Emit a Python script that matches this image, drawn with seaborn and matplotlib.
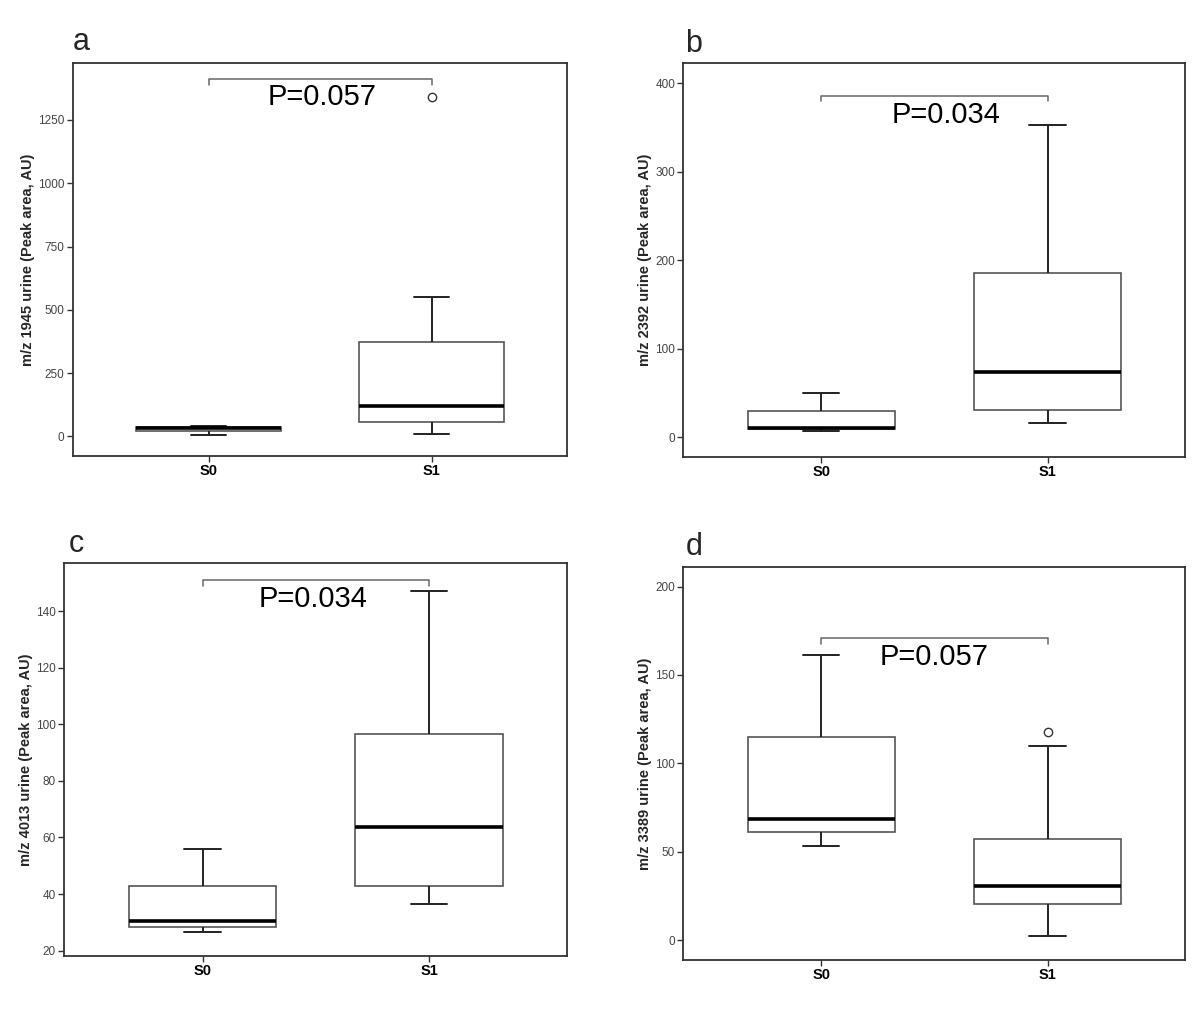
import pandas as pd
import seaborn as sns
import matplotlib.pyplot as plt

# groups on the x axis
groups = ["S0", "S1"]

# five-number summaries: [low whisker, Q1, median, Q3, high whisker]
a_s0 = [6, 22, 33, 38, 40]
a_s1 = [9, 58, 120, 374, 552]
b_s0 = [7.1, 8.7, 9.8, 29.4, 49.4]
b_s1 = [15.5, 30.5, 73.9, 185, 353]
c_s0 = [26.5, 28.5, 30.5, 42.9, 56.0]
c_s1 = [36.4, 43.0, 63.6, 96.6, 147.2]
d_s0 = [53.4, 61.0, 68.5, 115.1, 161.3]
d_s1 = [2.5, 20.2, 30.7, 57.2, 109.8]

# outliers (group, value)
a_out = [("S1", 1342)]
d_out = [("S1", 117.6)]

labels = ["a", "b", "c", "d"]
ylabels = ["m/z 1945 urine (Peak area, AU)", "m/z 2392 urine (Peak area, AU)",
           "m/z 4013 urine (Peak area, AU)", "m/z 3389 urine (Peak area, AU)"]
pvalues = ["P=0.057", "P=0.034", "P=0.034", "P=0.057"]
yticks = [[0, 250, 500, 750, 1000, 1250], [0, 100, 200, 300, 400],
          [20, 40, 60, 80, 100, 120, 140], [0, 50, 100, 150, 200]]
ylims = [(-78, 1475), (-22.3, 422.6), (18.1, 157.1), (-11.3, 211.3)]
bracket_top = [1412, 386, 150.9, 170.9]
bracket_tip = [1389, 380, 148.9, 167.5]
ptext_y = [1340, 364, 144.2, 160.3]
ptext_x = [0.51, 0.55, 0.49, 0.5]

sns.set_style("white")
plt.rcParams['font.family'] = ['Liberation Sans', 'DejaVu Sans']

fig = plt.figure(figsize=(12, 10.15), dpi=100)
axes_pos = [[0.0606, 0.5507, 0.4123, 0.3872],
            [0.5695, 0.5500, 0.4184, 0.3876],
            [0.0536, 0.0581, 0.4191, 0.3875],
            [0.5695, 0.0542, 0.4184, 0.3875]]
label_pos = [(0.0681, 0.9507), (0.5782, 0.9491), (0.0639, 0.4559), (0.5782, 0.4532)]
ylab_x = [-0.077, -0.062, -0.062, -0.062]

panels = [(a_s0, a_s1, a_out), (b_s0, b_s1, []), (c_s0, c_s1, []), (d_s0, d_s1, d_out)]

for i, (s0, s1, outs) in enumerate(panels):
    ax = fig.add_axes(axes_pos[i])
    df = pd.DataFrame({"group": ["S0"] * len(s0) + ["S1"] * len(s1),
                       "value": s0 + s1})
    sns.boxplot(data=df, x="group", y="value", order=groups, ax=ax,
                width=0.65, whis=(0, 100), color="white", linecolor="#555555",
                linewidth=1.2, showfliers=False, capwidths=0.16,
                medianprops=dict(color="black", linewidth=2.6),
                whiskerprops=dict(color="#222222", linewidth=1.4),
                capprops=dict(color="#222222", linewidth=1.4))
    if outs:
        odf = pd.DataFrame(outs, columns=["group", "value"])
        sns.stripplot(data=odf, x="group", y="value", order=groups, ax=ax,
                      jitter=False, size=6, color="white", edgecolor="#333333",
                      linewidth=1)

    # significance bracket
    ax.plot([0, 0, 1, 1], [bracket_tip[i], bracket_top[i], bracket_top[i], bracket_tip[i]],
            color="#666666", linewidth=1.1)
    ax.text(ptext_x[i], ptext_y[i], pvalues[i], ha="center", va="center",
            fontsize=21, color="black")

    ax.set_xlim(-0.61, 1.61)
    ax.set_ylim(*ylims[i])
    ax.set_yticks(yticks[i])
    ax.set_xlabel("")
    ax.set_ylabel(ylabels[i], fontsize=10.5, fontweight="bold")
    ax.yaxis.set_label_coords(ylab_x[i], 0.5)
    for sp in ax.spines.values():
        sp.set_visible(True)
        sp.set_color("#333333")
        sp.set_linewidth(1.3)
    ax.tick_params(axis="both", which="major", direction="out", length=4.5,
                   width=1, color="#333333", pad=1.5, bottom=True, left=True)
    for t in ax.get_yticklabels():
        t.set_fontsize(8.5)
        t.set_color("#444444")
    for t in ax.get_xticklabels():
        t.set_fontsize(10.5)
        t.set_fontweight("bold")
        t.set_color("black")

    fig.text(label_pos[i][0], label_pos[i][1], labels[i], ha="center",
             va="baseline", fontsize=22)

fig.savefig("out.png", dpi=100)
